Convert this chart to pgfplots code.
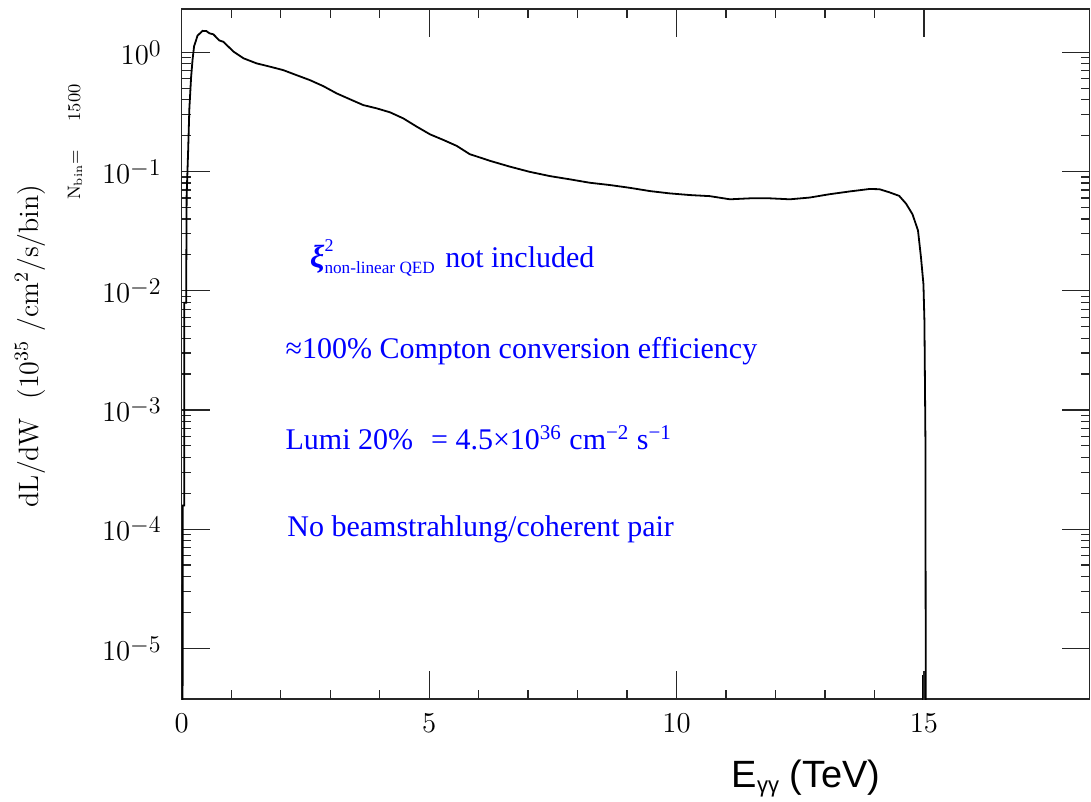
\documentclass[border=0pt]{standalone}
\usepackage{pgfplots}
\pgfplotsset{compat=1.18}
\usepackage{fontspec}
\newfontfamily\tnr{Liberation Serif}
\newfontfamily\hel{Liberation Sans}
\newcommand\tp[1]{$10$\raisebox{4pt}{\fontsize{12.5}{12.5}\selectfont$#1$}}
\begin{document}
\begin{tikzpicture}
\useasboundingbox (-90.85pt,-51.5pt) rectangle (454.65pt,349.5pt);
\begin{axis}[
  scale only axis, width=454pt, height=345pt,
  ymode=log, xmin=0, xmax=18.35, ymin=3.76e-6, ymax=2.31,
  axis line style={line width=0.6pt, black!85},
  tick align=inside,
  major tick length=14pt, minor tick length=4.5pt,
  every tick/.style={black!85, line width=0.6pt},
  xtick={0,5,10,15}, minor x tick num=4,
  ytick={1e-5,1e-4,1e-3,1e-2,1e-1,1},
  yticklabels={\tp{-5},\tp{-4},\tp{-3},\tp{-2},\tp{-1},\tp{0}},
  ticklabel style={font=\fontsize{14}{14}\selectfont},
  xticklabel style={font=\fontsize{13.5}{14}\selectfont, yshift=-4pt},
  yticklabel style={xshift=-7pt},
  clip mode=individual,
]
\addplot[black, line width=0.9pt] coordinates {
(0.015,1e-8)(0.02,1.58e-4)(0.05,1.58e-4)(0.053,7.94e-3)(0.09,7.94e-3)
(0.10,0.0631)(0.13,0.148)(0.155,0.339)(0.19,0.617)(0.22,0.871)(0.25,1.122)
(0.32,1.380)(0.42,1.514)(0.50,1.507)(0.56,1.445)(0.64,1.416)(0.76,1.259)
(0.84,1.227)(1.05,1.012)(1.25,0.891)(1.51,0.809)(1.78,0.759)(2.05,0.710)
(2.32,0.644)(2.59,0.585)(2.86,0.521)(3.13,0.453)(3.40,0.404)(3.67,0.361)
(3.94,0.339)(4.21,0.314)(4.48,0.279)(4.75,0.238)(5.02,0.205)(5.29,0.184)
(5.56,0.164)(5.82,0.140)(6.23,0.123)(6.63,0.110)(7.03,0.0995)(7.44,0.0916)
(7.84,0.0861)(8.25,0.0805)(8.65,0.0771)(9.05,0.0731)(9.46,0.0686)(9.86,0.0656)
(10.27,0.0635)(10.67,0.0622)(11.08,0.0585)(11.48,0.0596)(11.89,0.0596)
(12.29,0.0585)(12.69,0.0605)(13.10,0.0646)(13.50,0.0681)(13.90,0.0714)
(14.10,0.0711)(14.30,0.0670)(14.50,0.0625)(14.64,0.0537)(14.77,0.0437)
(14.88,0.0320)(14.94,0.0191)(14.99,0.01135)(15.01,0.00557)(15.03,5.61e-4)
(15.045,1e-8)
};
\addplot[black, line width=0.8pt] coordinates {(14.97,1e-8)(14.97,6e-6)};
\node[rotate=90, anchor=center, font=\fontsize{14}{14}\selectfont] at (rel axis cs:-0.167,0.5116)
  {dL/dW\ \ (10$^{35}$ /cm$^2$/s/bin)};
\node[rotate=90, anchor=center, font=\fontsize{9}{9}\selectfont] at (rel axis cs:-0.1175,0.807)
  {N$_{\mathrm{bin}}$=\hspace{1.6em}1500};
\begin{scope}[every node/.style={anchor=base west, text=blue, font=\tnr\fontsize{15}{17}\selectfont, inner sep=0pt}]
\node at (rel axis cs:0.141,0.626) {{\bfseries\itshape\fontsize{16}{17}\selectfont ξ}\makebox[0pt][l]{\raisebox{1.15ex}{\fontsize{9}{10}\selectfont 2}}\raisebox{-0.5ex}{\fontsize{8.6}{10}\selectfont non-linear QED}\hspace{0.35em}not included};
\node at (rel axis cs:0.114,0.494) {≈100\% Compton conversion efficiency};
\node at (rel axis cs:0.114,0.361) {Lumi 20\%\hspace{0.6em}= 4.5×10\textsuperscript{36} cm\textsuperscript{−2} s\textsuperscript{−1}};
\node at (rel axis cs:0.116,0.235) {No beamstrahlung/coherent pair};
\end{scope}
\node[anchor=base west, inner sep=0pt, font=\hel\fontsize{19}{20}\selectfont] at (rel axis cs:0.6055,-0.128)
  {E\raisebox{-0.25ex}{\fontsize{11}{11}\selectfont γγ} (TeV)};
\end{axis}
\end{tikzpicture}
\end{document}
